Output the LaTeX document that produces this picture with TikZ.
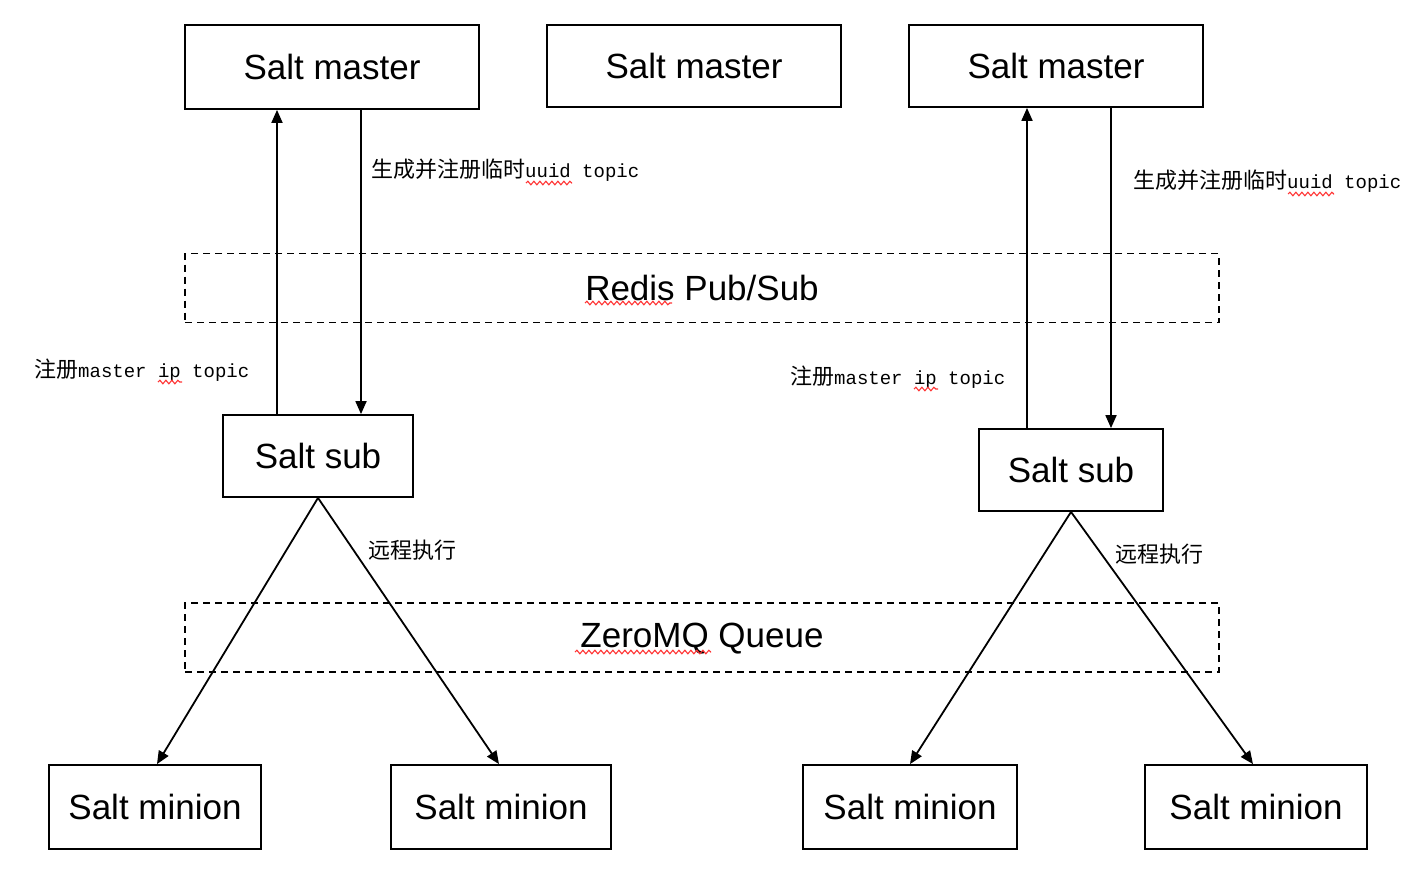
\documentclass[tikz,border=0pt]{standalone}
\usepackage{fontspec}
\setmainfont{Liberation Sans}
\setmonofont{Liberation Mono}
\newfontfamily\cjk{Noto Sans CJK SC}
\usepackage{tikz}
\usetikzlibrary{arrows.meta,positioning,decorations.pathmorphing}
\newcommand{\zhtxt}[1]{{\cjk\fontsize{22}{24}\selectfont #1}}
\newcommand{\entxt}[1]{{\ttfamily\fontsize{19}{22}\selectfont #1}}
\begin{document}
\begin{tikzpicture}[x=1pt,y=-1pt]
	\tikzstyle{box}=[rectangle,draw,line width=1.8pt,font=\fontsize{35}{40}\selectfont,inner sep=0pt]
	\tikzstyle{busbox}=[rectangle,draw,line width=1.5pt,dash pattern=on 7pt off 5pt,minimum width=1034pt,minimum height=69pt,font=\fontsize{35}{40}\selectfont,inner sep=0pt]
	\tikzstyle{lbl}=[anchor=west,inner sep=0pt]
	\tikzstyle{conn}=[line width=1.8pt,-{Triangle[length=13pt,width=11pt]}]
	\tikzstyle{squig}=[red!80,line width=1.1pt,decorate,decoration={snake,amplitude=1.8pt,segment length=6pt}]
	\useasboundingbox (0,0) rectangle (1420,870);
	\node[box,minimum width=294pt,minimum height=84pt] (master1) at (332,67) {Salt master};
	\node[box,minimum width=294pt,minimum height=82pt] (master2) at (694,66) {Salt master};
	\node[box,minimum width=294pt,minimum height=82pt] (master3) at (1056,66) {Salt master};
	\node[busbox] (redis) at (702,288) {Redis Pub/Sub};
	\node[busbox,text depth=4pt] (zmq) at (702,637.5) {ZeroMQ Queue};
	\node[box,minimum width=190pt,minimum height=82pt] (sub1) at (318,456) {Salt sub};
	\node[box,minimum width=184pt,minimum height=82pt] (sub2) at (1071,470) {Salt sub};
	\node[box,minimum width=212pt,minimum height=84pt] (minion1) at (155,807) {Salt minion};
	\node[box,minimum width=220pt,minimum height=84pt] (minion2) at (501,807) {Salt minion};
	\node[box,minimum width=214pt,minimum height=84pt] (minion3) at (910,807) {Salt minion};
	\node[box,minimum width=222pt,minimum height=84pt] (minion4) at (1256,807) {Salt minion};
	\node[lbl] (uuid1) at (371,170) {\zhtxt{生成并注册临时}\entxt{uuid topic}};
	\node[lbl] (uuid2) at (1133,181) {\zhtxt{生成并注册临时}\entxt{uuid topic}};
	\node[lbl] (ip1) at (34,370) {\zhtxt{注册}\entxt{master ip topic}};
	\node[lbl] (ip2) at (790,377) {\zhtxt{注册}\entxt{master ip topic}};
	\node[lbl] (exec1) at (368,550) {\zhtxt{远程执行}};
	\node[lbl] (exec2) at (1115,554) {\zhtxt{远程执行}};
	\draw[conn] ([xshift=-41pt]sub1.north) -- ([xshift=-41pt]sub1.north |- master1.south);
	\draw[conn] ([xshift=43pt]sub1.north |- master1.south) -- ([xshift=43pt]sub1.north);
	\draw[conn] ([xshift=-44pt]sub2.north) -- ([xshift=-44pt]sub2.north |- master3.south);
	\draw[conn] ([xshift=40pt]sub2.north |- master3.south) -- ([xshift=40pt]sub2.north);
	\draw[conn] (sub1.south) -- ([xshift=2pt]minion1.north);
	\draw[conn] (sub1.south) -- ([xshift=-2pt]minion2.north);
	\draw[conn] (sub2.south) -- (minion3.north);
	\draw[conn] (sub2.south) -- ([xshift=-3pt]minion4.north);
	\draw[squig] (526,183) -- (572,183);
	\draw[squig] (1288,194) -- (1334,194);
	\draw[squig] (158,382) -- (182,382);
	\draw[squig] (914,389) -- (938,389);
	\draw[squig] (585,303) -- (672,303);
	\draw[squig] (575,652) -- (711,652);
\end{tikzpicture}
\end{document}
